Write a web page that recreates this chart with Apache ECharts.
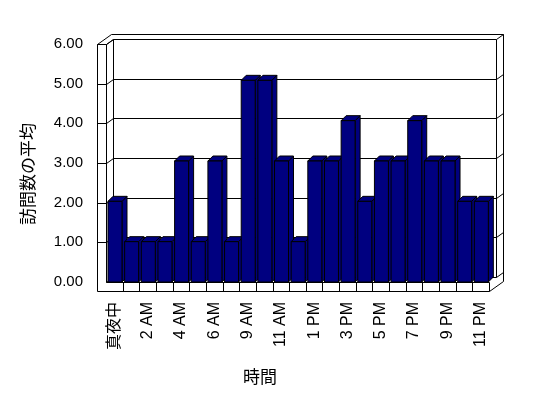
<!DOCTYPE html>
<html><head><meta charset="utf-8">
<script src="https://cdn.jsdelivr.net/npm/echarts@6/dist/echarts.min.js"></script>
<style>html,body{margin:0;padding:0;background:#fff}#c{width:548px;height:398px}</style>
</head><body><div id="c"></div>
<script>
const categories = ['真夜中','1 AM','2 AM','3 AM','4 AM','5 AM','6 AM','7 AM','9 AM','10 AM','11 AM','12 PM','1 PM','2 PM','3 PM','4 PM','5 PM','6 PM','7 PM','8 PM','9 PM','10 PM','11 PM'];
const visits = [2,1,1,1,3,1,3,1,5,5,3,1,3,3,4,2,3,3,4,3,3,2,2];
const yTicks = [0,1,2,3,4,5,6];
const yTitle = '訪問数の平均';
const xTitle = '時間';

const chart = echarts.init(document.getElementById('c'), null, {renderer:'canvas'});
const CJK = "'Noto Sans CJK JP', sans-serif";
const LAT = "'Liberation Sans', 'Noto Sans CJK JP', Arial, sans-serif";
const D = [7,-5], T = 9;
const S = v => Math.round(v) + 0.5;
const ln = (x1,y1,x2,y2) => ({type:'line', shape:{x1:S(x1),y1:S(y1),x2:S(x2),y2:S(y2)}, style:{stroke:'#000', lineWidth:1}, silent:true});

function frameItem(params, api){
  const band = api.size([1,0])[0];
  const n = categories.length;
  const L = api.coord([0,0])[0] - band/2;
  const R = api.coord([n-1,0])[0] + band/2;
  const B = api.coord([0,0])[1];
  const yv = v => api.coord([0,v])[1];
  const Tp = yv(6);
  const c = [];
  c.push(ln(L-T,Tp,L-T,B+T));
  c.push(ln(L,Tp,L,B));
  c.push(ln(L-T,Tp,L,Tp));
  c.push(ln(L-T,Tp,L-T+2*D[0],Tp+2*D[1]));
  c.push(ln(L,Tp,L+D[0],Tp+D[1]));
  c.push(ln(L+D[0],Tp+D[1],L+D[0],B+D[1]));
  c.push(ln(L-T+2*D[0],Tp+2*D[1],R+2*D[0],Tp+2*D[1]));
  c.push(ln(R+D[0],Tp+D[1],R+D[0],B+D[1]));
  c.push(ln(R+2*D[0],Tp+2*D[1],R+2*D[0],B+T+2*D[1]));
  yTicks.forEach(v => {
    const y = yv(v);
    c.push(ln(L+D[0],y+D[1],R+D[0],y+D[1]));
    c.push(ln(L,y,L+D[0],y+D[1]));
    if (v>0) c.push(ln(L-T,y,L,y));
    c.push(ln(R+D[0],y+D[1],R+2*D[0],y+2*D[1]));
  });
  c.push(ln(L-T,B+T,R,B+T));
  c.push(ln(L,B,R,B));
  c.push(ln(R,B,R,B+T));
  c.push(ln(R,B+T,R+2*D[0],B+T+2*D[1]));
  for (let k=1;k<n;k++){ const x=L+k*band; c.push(ln(x,B,x,B+T)); }
  return {type:'group', children:c};
}

function barItem(params, api){
  const i = api.value(0), v = api.value(1);
  const top = api.coord([i,v]), base = api.coord([i,0]);
  const bw = api.size([1,0])[0];
  const x0 = top[0] - bw*0.38, x1 = x0 + bw*0.84;
  const y0 = top[1], y1 = base[1];
  const dx = 5, dy = -5;
  const st = {fill:'#000080', stroke:'#000', lineWidth:1};
  return {type:'group', children:[
    {type:'polygon', shape:{points:[[x1,y0],[x1+dx,y0+dy],[x1+dx,y1+dy],[x1,y1]]}, style:st},
    {type:'polygon', shape:{points:[[x0,y0],[x0+dx,y0+dy],[x1+dx,y0+dy],[x1,y0]]}, style:st},
    {type:'rect', shape:{x:x0,y:y0,width:x1-x0,height:y1-y0}, style:st}
  ]};
}

chart.setOption({
  animation:false,
  backgroundColor:'#fff',
  grid:[
    {left:106, right:59, top:40, bottom:116},
    {left:106, right:59, top:44, bottom:116}
  ],
  xAxis:[
    {gridIndex:0, type:'category', data:categories, show:false},
    {gridIndex:1, type:'category', data:categories, axisLine:{show:false}, axisTick:{show:false},
     axisLabel:{interval:1, rotate:90, margin:20, color:'#000', fontSize:16, fontFamily:LAT}}
  ],
  yAxis:[
    {gridIndex:0, type:'value', min:0, max:6, interval:1, show:false},
    {gridIndex:1, type:'value', min:0, max:6, interval:1, axisLine:{show:false}, axisTick:{show:false}, splitLine:{show:false},
     axisLabel:{margin:23, color:'#000', fontSize:15, fontFamily:LAT, formatter:v=>v.toFixed(2)}}
  ],
  series:[
    {type:'custom', xAxisIndex:1, yAxisIndex:1, data:[[0,0]], renderItem:frameItem, z:1, silent:true},
    {type:'custom', xAxisIndex:0, yAxisIndex:0, data:visits.map((v,i)=>[i,v]), renderItem:barItem, z:2, silent:true}
  ],
  graphic:[
    {type:'text', x:28, y:174, rotation:Math.PI/2, style:{text:yTitle, font:"17px "+CJK, fill:'#000', align:'center', verticalAlign:'middle'}},
    {type:'text', x:260, y:377, style:{text:xTitle, font:"17px "+CJK, fill:'#000', align:'center', verticalAlign:'middle'}}
  ]
});
</script></body></html>
